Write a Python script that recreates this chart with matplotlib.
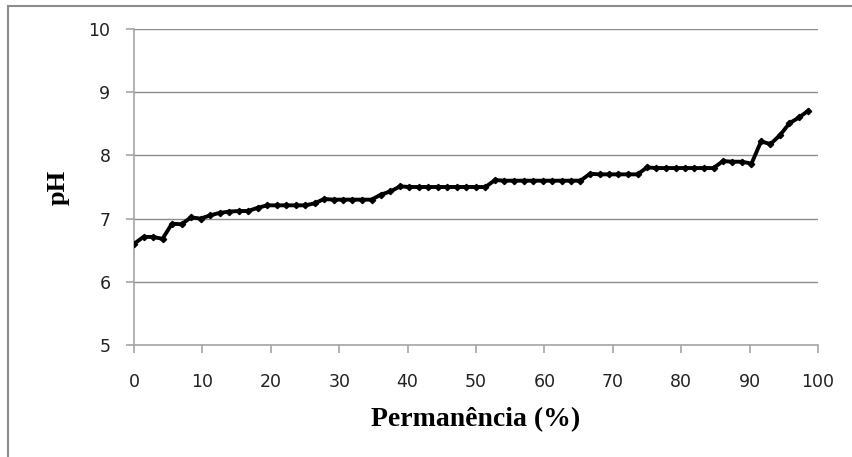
import numpy as np
import matplotlib
matplotlib.use("Agg")
import matplotlib.pyplot as plt
from matplotlib.lines import Line2D

# pH values sorted (72 points)
ph = [6.60, 6.71, 6.71, 6.68, 6.92, 6.91, 7.02, 7.00, 7.05, 7.09,
      7.11, 7.12, 7.12, 7.17, 7.21, 7.21, 7.21, 7.21, 7.21, 7.24,
      7.31, 7.30, 7.30, 7.30, 7.30, 7.30, 7.38, 7.43, 7.51, 7.50,
      7.50, 7.50, 7.50, 7.50, 7.50, 7.50, 7.50, 7.50, 7.61, 7.60,
      7.60, 7.60, 7.60, 7.60, 7.60, 7.60, 7.60, 7.60, 7.71, 7.70,
      7.70, 7.70, 7.70, 7.70, 7.81, 7.80, 7.80, 7.80, 7.80, 7.80,
      7.80, 7.80, 7.91, 7.90, 7.90, 7.87, 8.22, 8.18, 8.32, 8.51,
      8.60, 8.71]
perm = np.arange(len(ph)) * 100.0 / len(ph)

xticks = [0, 10, 20, 30, 40, 50, 60, 70, 80, 90, 100]
yticks = [5, 6, 7, 8, 9, 10]

fig = plt.figure(figsize=(8.53, 4.57), dpi=100)
ax = fig.add_axes([134/853, 1 - 345/457, (818-134)/853, (345-29)/457])

ax.plot(perm, ph, color="black", lw=2.8, marker="D", ms=3.2, zorder=3)

ax.set_xlim(0, 100)
ax.set_ylim(5, 10)
ax.set_xticks(xticks)
ax.set_yticks(yticks)
ax.yaxis.grid(True, color="#8c8c8c", lw=1)
for s in ["top", "right"]:
    ax.spines[s].set_visible(False)
for s in ["left", "bottom"]:
    ax.spines[s].set_color("#a6a6a6")
    ax.spines[s].set_linewidth(1.2)
ax.tick_params(axis="both", color="#a6a6a6", length=6, width=1.2, labelsize=12.5,
               labelcolor="#222222")
ax.tick_params(axis="x", pad=14)
ax.tick_params(axis="y", pad=11)

ax.set_xlabel("Permanência (%)", family="Liberation Serif", weight="bold",
              fontsize=20)
ax.set_ylabel("pH", family="Liberation Serif", weight="bold", fontsize=19)
ax.xaxis.set_label_coords(0.5, -0.195)
ax.yaxis.set_label_coords(-0.094, 0.5)

# chart frame (left and top edges visible)
fig.add_artist(Line2D([8/853, 8/853], [0, 1 - 6/457], color="#8c8c8c", lw=1.5))
fig.add_artist(Line2D([8/853, 1], [1 - 6/457, 1 - 6/457], color="#8c8c8c", lw=1.5))

fig.savefig("out.png", dpi=100)
